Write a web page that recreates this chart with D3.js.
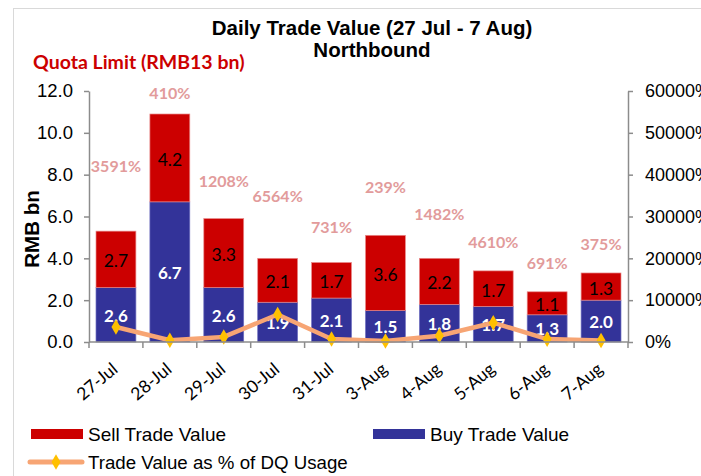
<!DOCTYPE html>
<html><head><meta charset="utf-8">
<script src="https://cdn.jsdelivr.net/npm/d3@7"></script>
<style>
body{margin:0;background:#fff;}
svg{display:block;}
</style></head>
<body>
<svg id="chart" width="701" height="476"></svg>
<script>
const categories = ["27-Jul","28-Jul","29-Jul","30-Jul","31-Jul","3-Aug","4-Aug","5-Aug","6-Aug","7-Aug"];
const buyValues  = [2.6, 6.7, 2.6, 1.9, 2.1, 1.5, 1.8, 1.7, 1.3, 2.0];
const sellValues = [2.7, 4.2, 3.3, 2.1, 1.7, 3.6, 2.2, 1.7, 1.1, 1.3];
const dqUsagePct = [3591, 410, 1208, 6564, 731, 239, 1482, 4610, 691, 375];
// level (in RMB bn) at which each % label was placed in the original
const pctLabelLevel = [8.4, 11.9, 7.7, 7.0, 5.5, 7.4, 6.1, 4.8, 3.8, 4.7];
const leftTicks = [0, 2, 4, 6, 8, 10, 12];
const rightTicks = [0, 10000, 20000, 30000, 40000, 50000, 60000];

(function(){
const svg = d3.select("#chart");
const W = 701, H = 476;
const pL = 89, pR = 628, pT = 91, pB = 342;

// frame
svg.append("rect").attr("x",13.5).attr("y",8.5).attr("width",W+10).attr("height",H+10)
  .attr("fill","none").attr("stroke","#d9d9d9").attr("stroke-width",1);

const x = d3.scaleBand().domain(categories).range([pL,pR]).paddingInner(0.26).paddingOuter(0.13);
const y = d3.scaleLinear().domain([0,12]).range([pB,pT]);
const y2 = d3.scaleLinear().domain([0,60000]).range([pB,pT]);

const axisColor = "#8c8c8c";
const fontArial = "'Liberation Sans', Arial, sans-serif";
const fontCal = "Lato, 'Open Sans', sans-serif";

// bars
const g = svg.append("g");
categories.forEach((c,i)=>{
  const b = buyValues[i], s = sellValues[i];
  g.append("rect").attr("x",x(c)).attr("width",x.bandwidth())
    .attr("y",y(b)).attr("height",y(0)-y(b))
    .attr("fill","#333399").attr("stroke","#7070c0").attr("stroke-width",0.7);
  g.append("rect").attr("x",x(c)).attr("width",x.bandwidth())
    .attr("y",y(b+s)).attr("height",y(b)-y(b+s))
    .attr("fill","#cc0000").attr("stroke","#e88a8a").attr("stroke-width",0.7);
  g.append("text").attr("x",x(c)+x.bandwidth()/2).attr("y",(y(b)+y(0))/2+7)
    .attr("text-anchor","middle").attr("fill","#ffffff").attr("font-family",fontCal)
    .attr("font-weight","bold").attr("font-size",17).text(b.toFixed(1));
  g.append("text").attr("x",x(c)+x.bandwidth()/2).attr("y",(y(b)+y(b+s))/2+8)
    .attr("text-anchor","middle").attr("fill","#000000").attr("font-family",fontCal)
    .attr("font-size",17.5).text(s.toFixed(1));
  g.append("text").attr("x",x(c)+x.bandwidth()/2).attr("y",y(pctLabelLevel[i])+6)
    .attr("text-anchor","middle").attr("fill","#e29b9b").attr("font-family",fontCal)
    .attr("font-weight","bold").attr("font-size",16).text(dqUsagePct[i]+"%");
});

// line
const cx = c => x(c)+x.bandwidth()/2;
const line = d3.line().x((d,i)=>cx(categories[i])).y(d=>y2(d));
svg.append("path").datum(dqUsagePct).attr("d",line).attr("fill","none")
  .attr("stroke","#f7a574").attr("stroke-width",4.5).attr("stroke-linejoin","round");
const diamond = d3.symbol().type(d3.symbolDiamond).size(70);
svg.selectAll(".mk").data(dqUsagePct).join("path")
  .attr("transform",(d,i)=>`translate(${cx(categories[i])},${y2(d)})`)
  .attr("d",diamond).attr("fill","#ffc000");

// left axis
const la = svg.append("g").attr("transform",`translate(${pL},0)`)
  .call(d3.axisLeft(y).tickValues(leftTicks).tickFormat(d3.format(".1f")).tickSize(5).tickSizeOuter(0));
la.select(".domain").attr("stroke",axisColor).attr("stroke-width",1.5);
la.selectAll(".tick line").attr("stroke",axisColor).attr("stroke-width",1.5);
la.selectAll(".tick text").attr("font-family",fontArial).attr("font-size",18.5).attr("fill","#000").attr("x",-16);

// right axis
const ra = svg.append("g").attr("transform",`translate(${pR},0)`)
  .call(d3.axisRight(y2).tickValues(rightTicks).tickFormat(d=>d+"%").tickSize(5).tickSizeOuter(0));
ra.select(".domain").attr("stroke",axisColor).attr("stroke-width",1.5);
ra.selectAll(".tick line").attr("stroke",axisColor).attr("stroke-width",1.5);
ra.selectAll(".tick text").attr("font-family",fontArial).attr("font-size",18).attr("fill","#000").attr("x",17);

// bottom axis
svg.append("line").attr("x1",pL).attr("x2",pR).attr("y1",pB).attr("y2",pB)
  .attr("stroke",axisColor).attr("stroke-width",1.5);
const step = x.step();
d3.range(categories.length+1).forEach(k=>{
  const xx = pL + k*step;
  svg.append("line").attr("x1",xx).attr("x2",xx).attr("y1",pB).attr("y2",pB+6)
    .attr("stroke",axisColor).attr("stroke-width",1.5);
});
categories.forEach(c=>{
  svg.append("text").attr("transform",`translate(${cx(c)+3},371) rotate(-40)`)
    .attr("text-anchor","end").attr("font-family",fontCal).attr("font-size",17.5).attr("fill","#000").text(c);
});

// titles
svg.append("text").attr("x",372).attr("y",35).attr("text-anchor","middle")
  .attr("font-family",fontArial).attr("font-weight","bold").attr("font-size",20.5).text("Daily Trade Value (27 Jul - 7 Aug)");
svg.append("text").attr("x",372).attr("y",57).attr("text-anchor","middle")
  .attr("font-family",fontArial).attr("font-weight","bold").attr("font-size",20.5).text("Northbound");
svg.append("text").attr("x",33).attr("y",69)
  .attr("font-family",fontCal).attr("font-weight","bold").attr("font-size",19.5).attr("fill","#cc0000").text("Quota Limit (RMB13 bn)");
svg.append("text").attr("transform",`translate(39,229) rotate(-90)`).attr("text-anchor","middle")
  .attr("font-family",fontArial).attr("font-weight","bold").attr("font-size",20.5).text("RMB bn");

// legend
const lg = svg.append("g");
lg.append("rect").attr("x",31).attr("y",429).attr("width",52).attr("height",10).attr("fill","#cc0000");
lg.append("text").attr("x",88).attr("y",441).attr("font-family",fontArial).attr("font-size",19).text("Sell Trade Value");
lg.append("rect").attr("x",373).attr("y",429).attr("width",52).attr("height",10).attr("fill","#333399");
lg.append("text").attr("x",430).attr("y",441).attr("font-family",fontArial).attr("font-size",19).text("Buy Trade Value");
lg.append("line").attr("x1",30).attr("x2",82).attr("y1",462).attr("y2",462)
  .attr("stroke","#f7a574").attr("stroke-width",5).attr("stroke-linecap","round");
lg.append("path").attr("transform","translate(56,462)").attr("d",diamond).attr("fill","#ffc000");
lg.append("text").attr("x",88).attr("y",469).attr("font-family",fontArial).attr("font-size",18.7).text("Trade Value as % of DQ Usage");
})();
</script>
</body></html>
